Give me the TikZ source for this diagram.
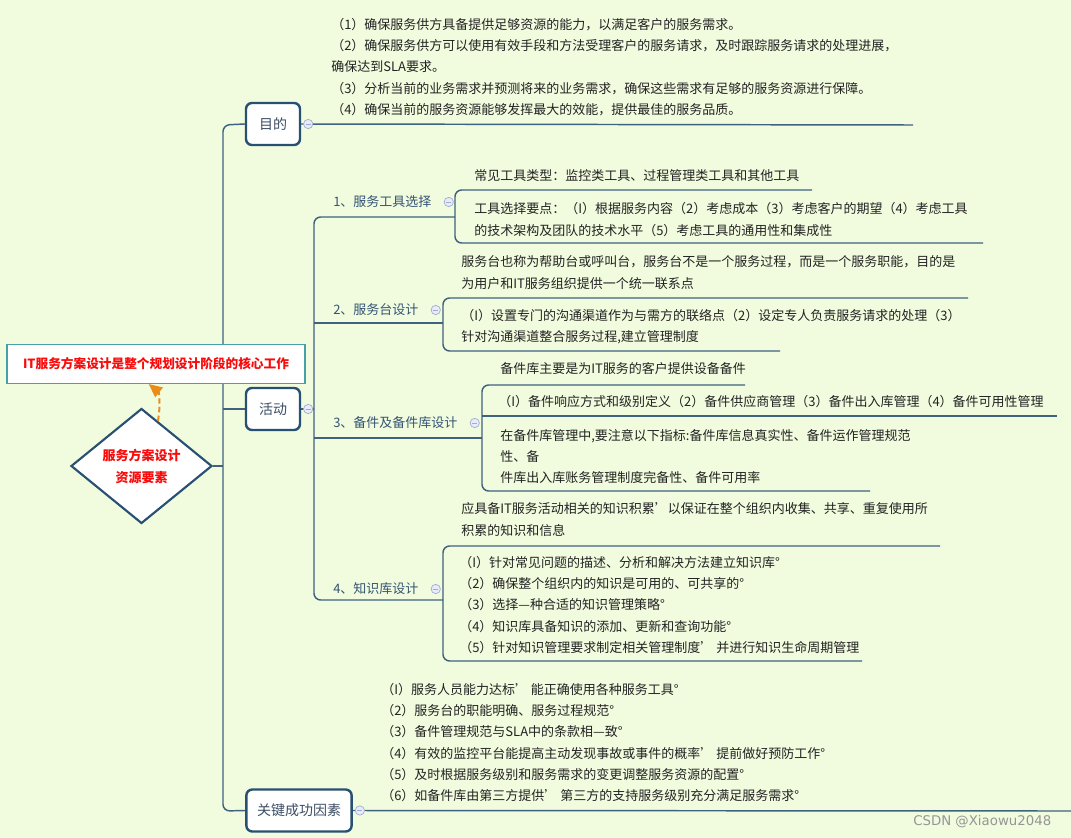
\documentclass[tikz,border=0pt]{standalone}
\usepackage{fontspec}
\setmainfont{Noto Sans CJK SC}
\newfontfamily\markfont{DejaVu Sans}
\usepackage{xcolor}
\usetikzlibrary{positioning, arrows.meta, shapes.geometric, backgrounds}

\definecolor{bgreen}{RGB}{241,251,222}
\definecolor{linkblue}{RGB}{62,98,128}
\definecolor{topicblue}{RGB}{40,80,114}
\definecolor{topictext}{RGB}{60,78,100}
\definecolor{branchtext}{RGB}{52,84,116}
\definecolor{leaftext}{RGB}{35,35,35}
\definecolor{coreteal}{RGB}{72,160,168}
\definecolor{corered}{RGB}{250,10,10}
\definecolor{arrorange}{RGB}{234,140,24}
\definecolor{foldline}{RGB}{160,172,210}
\definecolor{foldfill}{RGB}{232,236,248}
\definecolor{markgray}{RGB}{150,150,150}

% numbered item mark: （1）
\newcommand{\pn}[1]{（#1）}

\begin{document}
\begin{tikzpicture}[
  x=0.75pt, y=-0.75pt,
  link/.style={draw=linkblue, line width=1.1pt, rounded corners=5pt},
  topic/.style={draw=topicblue, line width=1.8pt, fill=white, rounded corners=4.5pt,
    minimum width=40.5pt, minimum height=31.5pt, inner xsep=8pt,
    text=topictext, font=\fontsize{10.5}{13}\selectfont},
  branch/.style={anchor=west, inner sep=0pt, text=branchtext, font=\fontsize{9.75}{12}\selectfont},
  leaf/.style={anchor=west, inner sep=0pt, align=left, text=leaftext,
    font=\fontsize{9.75}{15.9}\selectfont},
  fold/.style={circle, draw=foldline, fill=foldfill, line width=0.5pt,
    minimum size=7pt, inner sep=0pt,
    path picture={\draw[foldline, line width=0.6pt]
      ([xshift=-1.8pt]path picture bounding box.center) --
      ([xshift=1.8pt]path picture bounding box.center);}}
]
  \useasboundingbox (0,0) rectangle (1071,838);

  % --- centre: core statement and diamond ---
  \node (core) [draw=coreteal, line width=1.1pt, fill=white, minimum width=223.5pt,
    minimum height=29pt, text=corered, font=\bfseries\fontsize{9.5}{11}\selectfont]
    at (156,364) {IT服务方案设计是整个规划设计阶段的核心工作};
  \node (hub) [diamond, draw=topicblue, line width=1.6pt, fill=white, inner sep=0pt,
    minimum width=105.75pt, minimum height=86.25pt, align=center, text=corered,
    font=\bfseries\fontsize{9.75}{16.5}\selectfont]
    at (141.5,466) {服务方案设计\\资源要素};
  \draw[arrorange, line width=1.5pt, dash pattern=on 4pt off 2.5pt,
    -{Triangle[length=10pt, width=9pt]}]
    (hub.70) .. controls +(3,-16) and +(10,8) .. (core.250);

  % --- main topics ---
  \node (mudi) [topic] at (273,124) {目的};
  \node (huodong) [topic] at (273,409) {活动};
  \node (guanjian) [topic] at (299,810.5) {关键成功因素};
  \node (fmudi) [fold, right=1.5pt of mudi] {};
  \node (fhuodong) [fold, right=1.5pt of huodong] {};
  \node (fguanjian) [fold, right=1.5pt of guanjian] {};

  % --- activity branches ---
  \node (b1) [branch] at (333,202) {1、服务工具选择};
  \node (b2) [branch] at (333,310) {2、服务台设计};
  \node (b3) [branch] at (333,423) {3、备件及备件库设计};
  \node (b4) [branch] at (333,589) {4、知识库设计};
  \node (fb1) [fold, right=9pt of b1] {};
  \node (fb2) [fold, right=9pt of b2] {};
  \node (fb3) [fold, right=9pt of b3] {};
  \node (fb4) [fold, right=9pt of b4] {};

  % --- leaves ---
  \node (mudi-txt) [leaf] at (331,67)
    {\pn{1}确保服务供方具备提供足够资源的能力，以满足客户的服务需求。\\
     \pn{2}确保服务供方可以使用有效手段和方法受理客户的服务请求，及时跟踪服务请求的处理进展，\\
     确保达到SLA要求。\\
     \pn{3}分析当前的业务需求并预测将来的业务需求，确保这些需求有足够的服务资源进行保障。\\
     \pn{4}确保当前的服务资源能够发挥最大的效能，提供最佳的服务品质。};
  \node (t11) [leaf] at (474,176) {常见工具类型：监控类工具、过程管理类工具和其他工具};
  \node (t12) [leaf] at (474,219.5)
    {工具选择要点：\pn{I}根据服务内容\pn{2}考虑成本\pn{3}考虑客户的期望\pn{4}考虑工具\\
     的技术架构及团队的技术水平\pn{5}考虑工具的通用性和集成性};
  \node (t21) [leaf] at (461,272.5)
    {服务台也称为帮助台或呼叫台，服务台不是一个服务过程，而是一个服务职能，目的是\\
     为用户和IT服务组织提供一个统一联系点};
  \node (t22) [leaf] at (461,326.5)
    {\pn{I}设置专门的沟通渠道作为与需方的联络点\pn{2}设定专人负责服务请求的处理\pn{3}\\
     针对沟通渠道整合服务过程,建立管理制度};
  \node (t31) [leaf] at (500,369) {备件库主要是为IT服务的客户提供设备备件};
  \node (t32) [leaf] at (498,402)
    {\pn{I}备件响应方式和级别定义\pn{2}备件供应商管理\pn{3}备件出入库管理\pn{4}备件可用性管理};
  \node (t33) [leaf] at (500,456.5)
    {在备件库管理中,要注意以下指标:备件库信息真实性、备件运作管理规范\\
     性、备\\
     件库出入库账务管理制度完备性、备件可用率};
  \node (t41) [leaf] at (461,519.5)
    {应具备IT服务活动相关的知识积累’以保证在整个组织内收集、共享、重复使用所\\
     积累的知识和信息};
  \node (t42) [leaf] at (459,605)
    {\pn{I}针对常见问题的描述、分析和解决方法建立知识库°\\
     \pn{2}确保整个组织内的知识是可用的、可共享的°\\
     \pn{3}选择—种合适的知识管理策略°\\
     \pn{4}知识库具备知识的添加、更新和查询功能°\\
     \pn{5}针对知识管理要求制定相关管理制度’ 并进行知识生命周期管理};
  \node (gj-txt) [leaf] at (381,742.5)
    {\pn{I}服务人员能力达标’ 能正确使用各种服务工具°\\
     \pn{2}服务台的职能明确、服务过程规范°\\
     \pn{3}备件管理规范与SLA中的条款相—致°\\
     \pn{4}有效的监控平台能提高主动发现事故或事件的概率’ 提前做好预防工作°\\
     \pn{5}及时根据服务级别和服务需求的变更调整服务资源的配置°\\
     \pn{6}如备件库由第三方提供’ 第三方的支持服务级别充分满足服务需求°};

  \node (mark) [anchor=east, text=markgray, font=\markfont\fontsize{10}{12}\selectfont]
    at (1056,822) {CSDN @Xiaowu2048};

  % --- connectors, under the nodes ---
  \begin{scope}[on background layer]
    \fill[bgreen] (0,0) rectangle (1071,838);
    \coordinate (trunk-top) at (223,125);
    \coordinate (trunk-bot) at (223,811);
    \coordinate (mudi-end) at (913,125);
    \coordinate (gj-end) at (1071,811);
    \coordinate (sub-top) at (314,217);
    \coordinate (sub-bot) at (314,600);
    \coordinate (b1-end) at (455,217);
    \coordinate (b2-end) at (443,323);
    \coordinate (b3-end) at (482,438);
    \coordinate (b4-end) at (443,600);
    \coordinate (u11) at (812,190);
    \coordinate (u12) at (983,243);
    \coordinate (u21) at (968,298);
    \coordinate (u22) at (780,351);
    \coordinate (u31) at (745,385);
    \coordinate (u32) at (1057,416);
    \coordinate (u33) at (870,491);
    \coordinate (u41) at (940,546);
    \coordinate (u42) at (862,661);

    \draw[link] (mudi.west) -- (trunk-top) -- (trunk-bot) -- (guanjian.west);
    \draw[link] (hub.east) -- (hub.east -| trunk-top);
    \draw[link] (huodong.west) -- (huodong.west -| trunk-top);
    \draw[link] (mudi.east) -- (mudi-end);
    \draw[link] (guanjian.east) -- (gj-end);

    \draw[link] (huodong.east) -- (huodong.east -| sub-top);
    \draw[link] (b1-end) -- (sub-top) -- (sub-bot) -- (b4-end);
    \draw[link] (sub-top |- b2-end) -- (b2-end);
    \draw[link] (sub-top |- b3-end) -- (b3-end);

    \draw[link] (u11) -- (u11 -| b1-end) -- (u12 -| b1-end) -- (u12);
    \draw[link] (u21) -- (u21 -| b2-end) -- (u22 -| b2-end) -- (u22);
    \draw[link] (u31) -- (u31 -| b3-end) -- (u33 -| b3-end) -- (u33);
    \draw[link] (u32 -| b3-end) -- (u32);
    \draw[link] (u41) -- (u41 -| b4-end) -- (u42 -| b4-end) -- (u42);
  \end{scope}
\end{tikzpicture}
\end{document}
